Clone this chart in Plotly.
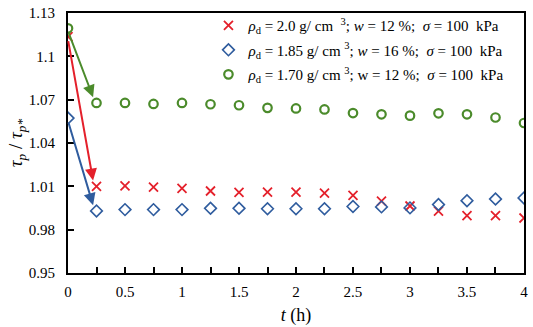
import plotly.graph_objects as go

t = [0, 0.25, 0.5, 0.75, 1.0, 1.25, 1.5, 1.75, 2.0, 2.25, 2.5, 2.75, 3.0, 3.25, 3.5, 3.75, 4.0]
red = [1.1137, 1.0100, 1.0104, 1.0095, 1.0086, 1.0068, 1.0059, 1.0060, 1.0060, 1.0054, 1.0038,
       0.9998, 0.9964, 0.9928, 0.9897, 0.9897, 0.9881]
blue = [1.0573, 0.9930, 0.9939, 0.9939, 0.9939, 0.9948, 0.9948, 0.9945, 0.9945, 0.9945, 0.9961,
        0.9958, 0.9951, 0.9974, 1.0001, 1.0012, 1.0020]
green = [1.1195, 1.0678, 1.0678, 1.0671, 1.0678, 1.0669, 1.0662, 1.0644, 1.0640, 1.0633, 1.0608,
         1.0599, 1.0590, 1.0606, 1.0599, 1.0577, 1.0539]

x_ticks = [0, 0.5, 1, 1.5, 2, 2.5, 3, 3.5, 4]
x_ticktext = ["0", "0.5", "1", "1.5", "2", "2.5", "3", "3.5", "4"]
y_ticks = [0.95, 0.98, 1.01, 1.04, 1.07, 1.1, 1.13]
y_ticktext = ["0.95", "0.98", "1.01", "1.04", "1.07", "1.1", "1.13"]

names = [
    "<i>ρ</i><sub>d</sub> = 2.0 g/ cm  <sup>3</sup>; <i>w</i> = 12 %;  <i>σ</i> = 100  kPa",
    "<i>ρ</i><sub>d</sub> = 1.85 g/ cm <sup>3</sup>; <i>w</i> = 16 %;  <i>σ</i> = 100  kPa",
    "<i>ρ</i><sub>d</sub> = 1.70 g/ cm <sup>3</sup>; w = 12 %;  <i>σ</i> = 100  kPa",
]
RED, BLUE, GREEN = "#E4202B", "#2F5C9E", "#4B8B2B"
FONT = "Liberation Serif"

fig = go.Figure()
fig.add_trace(go.Scatter(x=t, y=red, mode="markers", name=names[0], legendgroup="a",
                         marker=dict(symbol="x-thin", size=9, line=dict(color=RED, width=1.8), color=RED)))
fig.add_trace(go.Scatter(x=t, y=blue, mode="markers", name=names[1], legendgroup="b",
                         marker=dict(symbol="diamond-open", size=9, line=dict(color=BLUE, width=1.6), color=BLUE)))
fig.add_trace(go.Scatter(x=t, y=green, mode="markers", name=names[2], legendgroup="c",
                         marker=dict(symbol="circle-open", size=8.5, line=dict(color=GREEN, width=2.2), color=GREEN)))

# arrows from the first point towards the second point of each series
for ys, col in [(green, GREEN), (red, RED), (blue, BLUE)]:
    fig.add_annotation(x=t[1] - 0.03, y=ys[1] + 0.004, ax=t[0], ay=ys[0] - 0.002,
                       xref="x", yref="y", axref="x", ayref="y",
                       showarrow=True, arrowhead=2, arrowsize=1.2, arrowwidth=2, arrowcolor=col, text="")

fig.update_layout(
    width=533, height=327,
    margin=dict(l=68, r=6, t=5, b=54),
    plot_bgcolor="white", paper_bgcolor="white",
    font=dict(family=FONT, size=15, color="black"),
    showlegend=True,
    legend=dict(x=0.308, y=1.015, xanchor="left", yanchor="top", bgcolor="rgba(0,0,0,0)",
                font=dict(family=FONT, size=15), tracegroupgap=2, itemsizing="trace"),
)
fig.update_xaxes(range=[0, 4.0001], tickvals=x_ticks, ticktext=x_ticktext,
                 ticks="inside", ticklen=6, tickwidth=2, tickcolor="black",
                 minor=dict(dtick=0.25, ticks="inside", ticklen=6, tickwidth=2, tickcolor="black"),
                 showline=True, linecolor="black", linewidth=2, mirror=True,
                 showgrid=False, zeroline=False, ticklabelstandoff=4,
                 title=dict(text="<i>t</i> (h)", font=dict(family=FONT, size=18), standoff=9),
                 tickfont=dict(family=FONT, size=15))
fig.update_yaxes(range=[0.95, 1.1301], tickvals=y_ticks, ticktext=y_ticktext,
                 ticks="inside", ticklen=6, tickwidth=2, tickcolor="black",
                 showline=True, linecolor="black", linewidth=2, mirror=True,
                 showgrid=False, zeroline=False, ticklabelstandoff=8,
                 title=dict(text="<i>τ<sub>p</sub></i> / <i>τ<sub>p*</sub></i>", font=dict(family=FONT, size=19), standoff=0),
                 tickfont=dict(family=FONT, size=15))

fig.write_html("out.html", config={"displayModeBar": False},
               post_script="document.body.style.margin='0';")
